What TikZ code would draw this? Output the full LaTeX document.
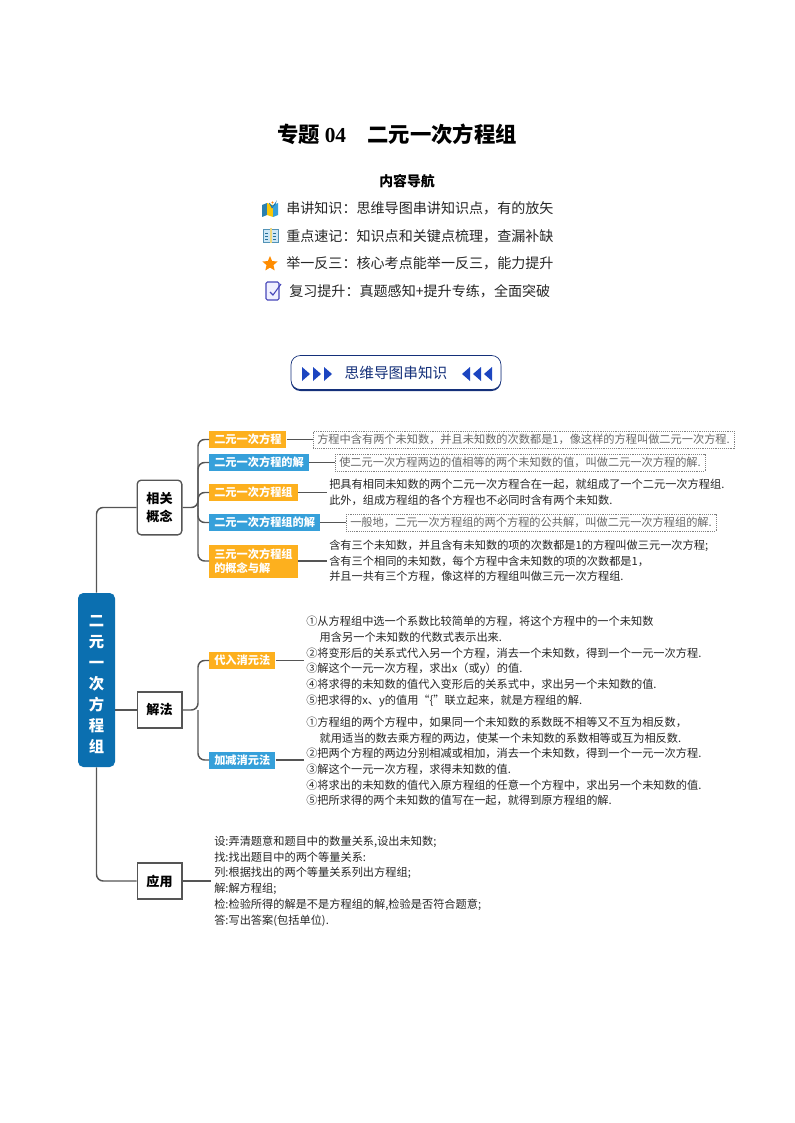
\documentclass[tikz,border=0pt]{standalone}
\usepackage{fontspec}
\setmainfont{Noto Sans CJK SC}
\newfontfamily\latinserif{Liberation Serif}
\usetikzlibrary{calc,shapes.geometric}
\definecolor{rootblue}{HTML}{0B6FB0}
\definecolor{tagorange}{HTML}{FDB01E}
\definecolor{tagblue}{HTML}{36A0DA}
\definecolor{linkgray}{HTML}{555555}
\definecolor{navy}{HTML}{14307A}
\definecolor{arrowblue}{HTML}{1C45C0}

\begin{document}
\begin{tikzpicture}[x=0.75pt, y=-0.75pt]

    \tikzstyle{link}=[draw=linkgray, line width=1.1pt, rounded corners=5pt];
    \tikzstyle{tag}=[anchor=west, text=white, inner xsep=3.75pt, inner ysep=0pt, minimum height=12.75pt, font=\fontsize{8.4}{11}\selectfont\bfseries, align=left];
    \tikzstyle{topic}=[draw=linkgray, line width=1pt, fill=white, minimum width=33.5pt, inner sep=0pt, font=\fontsize{9.8}{14}\selectfont\bfseries, align=center];
    \tikzstyle{note}=[anchor=west, inner sep=0pt, text=black!85, font=\fontsize{8.4}{11.8}\selectfont, align=left];
    \tikzstyle{dashednote}=[anchor=west, draw=gray, densely dotted, text=black!60, inner xsep=3pt, inner ysep=0pt, minimum height=12.75pt, font=\fontsize{8.4}{11}\selectfont];
    \tikzstyle{navline}=[anchor=west, inner sep=0pt, text=black!85, font=\fontsize{10.55}{12}\selectfont];

    \useasboundingbox (0,0) rectangle (794,1123);

    % title block
    \node[inner sep=0pt, anchor=west, font=\fontsize{16}{20}\selectfont\bfseries] (title) at (277,134) {专题 {\latinserif 04}\hspace{1em}二元一次方程组};
    \node[inner sep=0pt, font=\fontsize{10.4}{12}\selectfont\bfseries] (navhead) at (407,181) {内容导航};
    \node[navline] (nav1) at (286,208) {串讲知识：思维导图串讲知识点，有的放矢};
    \node[navline] (nav2) at (286,236) {重点速记：知识点和关键点梳理，查漏补缺};
    \node[navline] (nav3) at (286,263) {举一反三：核心考点能举一反三，能力提升};
    \node[navline] (nav4) at (289,291) {复习提升：真题感知+提升专练，全面突破};

    % icons
    \fill[tagblue!80!black] (262,205) -- (267,203) -- (267,215) -- (262,217) -- cycle;
    \fill[yellow!60!orange] (267,203) -- (273,205) -- (273,217) -- (267,215) -- cycle;
    \fill[tagblue] (273,205) -- (278,203) -- (278,215) -- (273,217) -- cycle;
    \fill[tagblue!30, draw=rootblue, line width=0.5pt] (272,208) -- (269.5,203) arc[start angle=180, end angle=0, radius=3] -- cycle;
    \fill[orange] (272.5,202.5) circle (1.2);
    \fill[tagblue!25, draw=tagblue!60!gray, line width=0.4pt] (263,229) rectangle (278,242);
    \fill[yellow!50!brown!60] (269.5,228) rectangle (271.5,243);
    \draw[tagblue!70!black, line width=0.4pt] (265,233) -- (268,233) (265,236) -- (268,236) (265,239) -- (268,239) (273,233) -- (276,233) (273,236) -- (276,236) (273,239) -- (276,239);
    \node[star, star points=5, star point ratio=2.2, fill=orange!90!yellow, inner sep=0pt, minimum size=12pt] (navstar) at (270,264) {};
    \draw[blue!45!gray, line width=0.8pt, fill=blue!6, rounded corners=1pt] (266,282) rectangle (279,300);
    \draw[blue!45!gray, line width=0.8pt] (270,292) -- (273,295) -- (281,284);

    % banner
    \fill[navy, rounded corners=7pt] (291,357) rectangle (501,391);
    \node[draw=navy, fill=white, rounded corners=7pt, line width=0.5pt, minimum width=157.5pt, minimum height=25.5pt, inner sep=0pt, text=navy, font=\fontsize{11}{13}\selectfont] (banner) at (396,372.5) {\raisebox{-0.6pt}{思维导图串知识}};
    \foreach \x in {302,313,324} {
        \fill[arrowblue] (\x,367) -- ($(\x,374)+(8,0)$) -- (\x,381) -- cycle;
    }
    \foreach \x in {470,481,492} {
        \fill[arrowblue] (\x,367) -- ($(\x,374)+(-8,0)$) -- (\x,381) -- cycle;
    }

    % root and topics
    \node[fill=rootblue, rounded corners=4pt, text=white, minimum width=27.75pt, minimum height=130.5pt, inner sep=0pt, font=\fontsize{11.5}{15.75}\selectfont\bfseries, align=center] (root) at (96.5,680) {\\[-1pt]二\\元\\一\\次\\方\\程\\组};
    \node[topic, rounded corners=3pt, minimum height=41pt] (concept) at (159.5,507.5) {相关\\概念};
    \node[topic, minimum height=27pt] (method) at (159.5,710) {解法};
    \node[topic, minimum height=27pt] (usage) at (159.5,881) {应用};

    \coordinate (busa) at (198,507.5);
    \coordinate (busb) at (198,710);

    % tags
    \node[tag, fill=tagorange] (eq) at (209,439.5) {二元一次方程};
    \node[tag, fill=tagblue] (eqsol) at (209,462.5) {二元一次方程的解};
    \node[tag, fill=tagorange] (sys) at (209,492.5) {二元一次方程组};
    \node[tag, fill=tagblue] (syssol) at (209,522.5) {二元一次方程组的解};
    \node[tag, fill=tagorange, minimum height=24.75pt] (tri) at (209,561) {三元一次方程组\\的概念与解};
    \node[tag, fill=tagorange] (subst) at (209,660.5) {代入消元法};
    \node[tag, fill=tagblue] (elim) at (209,760) {加减消元法};

    % notes
    \node[dashednote] (eqnote) at (313,439.5) {方程中含有两个未知数，并且未知数的次数都是1，像这样的方程叫做二元一次方程.};
    \node[dashednote] (eqsolnote) at (335,462.5) {使二元一次方程两边的值相等的两个未知数的值，叫做二元一次方程的解.};
    \node[note] (sysnote) at (329,492.5) {把具有相同未知数的两个二元一次方程合在一起，就组成了一个二元一次方程组.\\此外，组成方程组的各个方程也不必同时含有两个未知数.};
    \node[dashednote] (syssolnote) at (346,522.5) {一般地，二元一次方程组的两个方程的公共解，叫做二元一次方程组的解.};
    \node[note] (trinote) at (329,561) {含有三个未知数，并且含有未知数的项的次数都是1的方程叫做三元一次方程;\\含有三个相同的未知数，每个方程中含未知数的项的次数都是1，\\并且一共有三个方程，像这样的方程组叫做三元一次方程组.};
    \node[note] (substnote) at (306,661.5) {①从方程组中选一个系数比较简单的方程，将这个方程中的一个未知数\\\hspace*{1.2em}用含另一个未知数的代数式表示出来.\\②将变形后的关系式代入另一个方程，消去一个未知数，得到一个一元一次方程.\\③解这个一元一次方程，求出x（或y）的值.\\④将求得的未知数的值代入变形后的关系式中，求出另一个未知数的值.\\⑤把求得的x、y的值用“\{”联立起来，就是方程组的解.};
    \node[note] (elimnote) at (306,761.5) {①方程组的两个方程中，如果同一个未知数的系数既不相等又不互为相反数，\\\hspace*{1.2em}就用适当的数去乘方程的两边，使某一个未知数的系数相等或互为相反数.\\②把两个方程的两边分别相减或相加，消去一个未知数，得到一个一元一次方程.\\③解这个一元一次方程，求得未知数的值.\\④将求出的未知数的值代入原方程组的任意一个方程中，求出另一个未知数的值.\\⑤把所求得的两个未知数的值写在一起，就得到原方程组的解.};
    \node[note] (usagenote) at (214,881) {设:弄清题意和题目中的数量关系,设出未知数;\\找:找出题目中的两个等量关系:\\列:根据找出的两个等量关系列出方程组;\\解:解方程组;\\检:检验所得的解是不是方程组的解,检验是否符合题意;\\答:写出答案(包括单位).};

    % connectors
    \draw[link] (root.north) |- (concept.west);
    \draw[link] (root.east |- method.west) -- (method.west);
    \draw[link] (root.south) |- (usage.west);

    \draw[link] (concept.east) -- (busa) |- (eq.west);
    \draw[link] (busa) |- (eqsol.west);
    \draw[link] (busa) |- (sys.west);
    \draw[link] (busa) |- (syssol.west);
    \draw[link] (busa) |- (tri.west);

    \draw[link] (method.east) -- (busb) |- (subst.west);
    \draw[link] (busb) |- (elim.west);

    \draw[link] (eq.east) -- (eqnote.west);
    \draw[link] (eqsol.east) -- (eqsolnote.west);
    \draw[link] (sys.east) -- ($(sys.east -| sysnote.west)+(-2,0)$);
    \draw[link] (syssol.east) -- (syssolnote.west);
    \draw[link] (tri.east) -- ($(tri.east -| trinote.west)+(-2,0)$);
    \draw[link] (subst.east) -- ($(subst.east -| substnote.west)+(-2,0)$);
    \draw[link] (elim.east) -- ($(elim.east -| elimnote.west)+(-2,0)$);
    \draw[link] (usage.east) -- ($(usage.east -| usagenote.west)+(-3,0)$);
\end{tikzpicture}
\end{document}
